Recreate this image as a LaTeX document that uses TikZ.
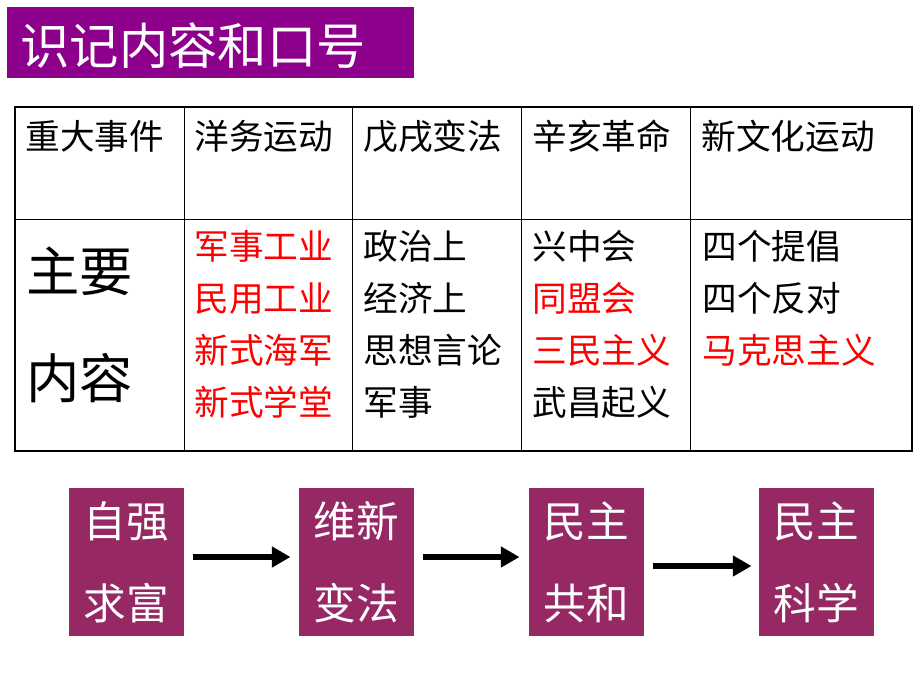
\documentclass[tikz,border=0pt]{standalone}
\usepackage{fontspec}
\newfontfamily\cjk{Noto Sans CJK SC}
\usetikzlibrary{arrows.meta,calc}
\definecolor{titlepurple}{RGB}{140,0,140}
\definecolor{stagerose}{RGB}{150,40,100}
\definecolor{keyred}{RGB}{255,0,0}
\tikzset{every picture/.style={line width=0.75pt}}

\begin{document}
\begin{tikzpicture}[x=0.75pt,y=0.75pt,yscale=-1,xscale=1,
  headtext/.style={anchor=base west,inner sep=0pt,font=\cjk\fontsize{26}{39}\selectfont},
  celltext/.style={anchor=base west,inner sep=0pt,align=left,font=\cjk\fontsize{26}{39}\selectfont},
  stagebox/.style={fill=stagerose,text=white,minimum width=86.25pt,minimum height=111pt,inner sep=0pt,align=center,font=\cjk\fontsize{32}{61.5}\selectfont},
  flow/.style={line width=4.5pt,-{Triangle[length=14pt,width=15pt]}}]
\useasboundingbox (0,0) rectangle (920,690);

%Title bar
\fill[titlepurple] (7,7) rectangle (414,78);
\node[anchor=base west,inner sep=0pt,text=white,font=\cjk\fontsize{37}{44}\selectfont] (title) at (20,64.5) {识记内容和口号};

%Table grid
\draw[line width=1.5pt] (15,107) rectangle (912,451);
\draw (15,219) -- (912,219);
\foreach \colx in {184,352,521,690}
  \draw (\colx,107) -- (\colx,451);

%Header row
\node[headtext] (hevent) at (25,149.5) {重大事件};
\node[headtext] (hyw) at (194,149.5) {洋务运动};
\node[headtext] (hwx) at (363,149.5) {戊戌变法};
\node[headtext] (hxh) at (532,149.5) {辛亥革命};
\node[headtext] (hxwh) at (701,149.5) {新文化运动};

%Content row (base = last line)
\node[anchor=base west,inner sep=0pt,align=left,font=\cjk\fontsize{40}{80}\selectfont] (hmain) at (26,398) {主要\\内容};
\node[celltext,text=keyred] (cyw) at (194,415) {军事工业\\民用工业\\新式海军\\新式学堂};
\node[celltext] (cwx) at (363,415) {政治上\\经济上\\思想言论\\军事};
\node[celltext] (cxh) at (532,415) {兴中会\\\textcolor{keyred}{同盟会}\\\textcolor{keyred}{三民主义}\\武昌起义};
\node[celltext] (cxwh) at (702,363.4) {四个提倡\\四个反对\\\textcolor{keyred}{马克思主义}};

%Slogans
\node[stagebox] (zqqf) at (126.5,562) {自强\\求富};
\node[stagebox] (wxbf) at (356.5,562) {维新\\变法};
\node[stagebox] (mzgh) at (586.5,562) {民主\\共和};
\node[stagebox] (mzkx) at (816.5,562) {民主\\科学};

\draw[flow] ($(zqqf.east)+(8,-5)$) -- ($(wxbf.west)+(-8,-5)$);
\draw[flow] ($(wxbf.east)+(8,-5)$) -- ($(mzgh.west)+(-9,-5)$);
\draw[flow] ($(mzgh.east)+(8,4)$) -- ($(mzkx.west)+(-7,4)$);

\end{tikzpicture}
\end{document}
